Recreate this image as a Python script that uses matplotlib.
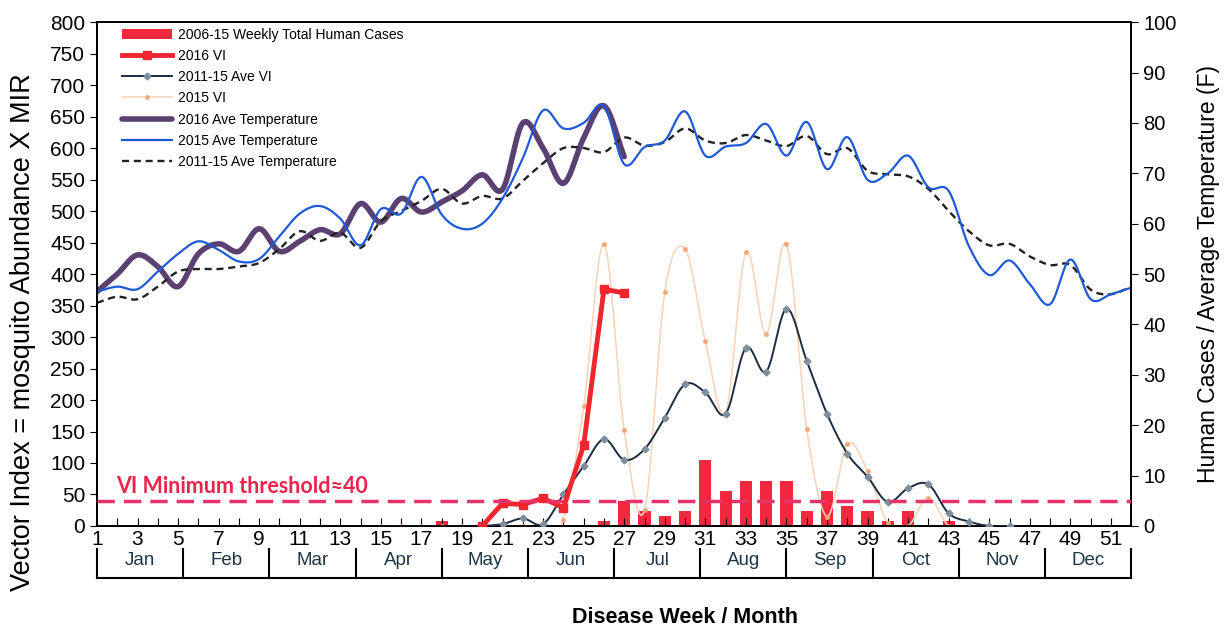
import numpy as np
import matplotlib
matplotlib.use("Agg")
import matplotlib.pyplot as plt

plt.rcParams['font.family'] = ['Liberation Sans', 'DejaVu Sans']

# ---- data ----
weeks = list(range(1, 53))

temp_2016_weeks = list(range(1, 28))
temp_2016 = [46.5, 50, 53.8, 51.5, 47.5, 54, 56, 54.5, 59, 54.5, 56.5, 58.8, 58, 64,
             60.3, 65, 62.3, 64.3, 66.5, 69.7, 66.8, 80, 75, 68, 77, 83.4, 73.3]

temp_2015 = [46.5, 47.5, 47, 50.5, 54, 56.5, 54.8, 52.5, 53, 57.5, 62, 63.5, 61, 55.7,
             62.9, 62, 69.3, 61.8, 59, 60, 65, 73, 82.5, 78.9, 80, 83.4, 71.8, 75.2,
             76.5, 82.3, 73.5, 75.3, 76, 79.8, 73.5, 80.2, 70.8, 77.2, 68.7, 70, 73.5,
             67.2, 66.5, 55.5, 49.8, 52.7, 48, 44, 52.9, 45, 46, 47.3]

temp_avg = [44.3, 45.5, 45, 47.5, 50.5, 51, 51, 51.5, 52.2, 55, 58.5, 56.6, 58.2, 55.2,
            60.5, 62.5, 64.5, 66.9, 64, 65.5, 65, 68.5, 72, 75, 75, 74.2, 77.1, 75.5,
            76.2, 78.9, 76.5, 76, 77.6, 76.5, 75.4, 77.4, 73.8, 75, 70.5, 69.8, 69.4,
            66.9, 62.5, 58.5, 55.7, 56, 53.5, 51.8, 51.8, 46.9, 46, 47.5]

vi_2016_weeks = list(range(20, 28))
vi_2016 = [0, 36, 34, 44, 29, 128, 376, 370]

vi_avg_weeks = list(range(20, 47))
vi_avg = [0, 3, 12, 3, 50, 95, 138, 105, 122, 172, 225, 212, 178, 283, 245, 345, 262,
          178, 115, 78, 38, 60, 66, 20, 7, 0, 0]

vi_2015_weeks = list(range(15, 45))
vi_2015 = [0, 0, 0, 0, 0, 0, 0, 0, 0, 10, 190, 448, 152, 25, 372, 440, 293, 180, 435,
           305, 448, 154, 15, 130, 87, 5, 0, 45, 0, 0]

case_weeks = [18, 26, 27, 28, 29, 30, 31, 32, 33, 34, 35, 36, 37, 38, 39, 40, 41, 43]
cases = [1, 1, 5, 3, 2, 3, 13, 7, 9, 9, 9, 3, 7, 4, 3, 1, 3, 1]

vi_threshold = 40
months = ['Jan', 'Feb', 'Mar', 'Apr', 'May', 'Jun', 'Jul', 'Aug', 'Sep', 'Oct', 'Nov', 'Dec']

STEPS = 12  # sub-steps per segment for the smoothed (Excel style) lines


def smooth(x, y, n=STEPS):
    # Catmull-Rom curve through the points, like Excel "smoothed line"
    x = np.asarray(x, float)
    y = np.asarray(y, float)
    px = np.concatenate([[2 * x[0] - x[1]], x, [2 * x[-1] - x[-2]]])
    py = np.concatenate([[2 * y[0] - y[1]], y, [2 * y[-1] - y[-2]]])
    t = np.linspace(0, 1, n, endpoint=False)
    xs, ys = [], []
    for i in range(1, len(px) - 2):
        for arr, out in ((px, xs), (py, ys)):
            p0, p1, p2, p3 = arr[i - 1:i + 3]
            out.append(0.5 * (2 * p1 + (p2 - p0) * t
                              + (2 * p0 - 5 * p1 + 4 * p2 - p3) * t ** 2
                              + (3 * p1 - p0 - 3 * p2 + p3) * t ** 3))
    xs.append([x[-1]])
    ys.append([y[-1]])
    return np.concatenate(xs), np.concatenate(ys)


def main():
    fig = plt.figure(figsize=(12.24, 6.29), dpi=100)
    ax = fig.add_axes([0.0792, 0.1638, 0.845, 0.801])
    ax2 = ax.twinx()
    # VI axis drawn over the cases/temperature axis
    ax.set_zorder(ax2.get_zorder() + 1)
    ax.patch.set_visible(False)

    # right axis: human cases and temperatures
    bars = ax2.bar(case_weeks, cases, width=0.6, color='#f2283f', zorder=2,
                   label='2006-15 Weekly Total Human Cases')
    tx, ty = smooth(temp_2016_weeks, temp_2016)
    l_t16, = ax2.plot(tx, ty, color='#5b4172', lw=4, solid_capstyle='round', zorder=3,
                      label='2016 Ave Temperature')
    tx, ty = smooth(weeks, temp_2015)
    l_t15, = ax2.plot(tx, ty, color='#1f5ad6', lw=1.6, zorder=4, label='2015 Ave Temperature')
    tx, ty = smooth(weeks, temp_avg)
    l_tav, = ax2.plot(tx, ty, color='#222222', lw=1.7, dashes=(3, 2), zorder=3,
                      label='2011-15 Ave Temperature')

    # left axis: vector index
    vx, vy = smooth(vi_2015_weeks, vi_2015)
    l_v15, = ax.plot(vx, vy, color='#f8d3b8', lw=1.1, marker='o', ms=2.5,
                     mfc='#f2a878', mec='#f2a878', markevery=STEPS, zorder=2, label='2015 VI')
    vx, vy = smooth(vi_avg_weeks, vi_avg)
    l_vav, = ax.plot(vx, vy, color='#1b2c40', lw=1.4, marker='D', ms=3.5,
                     mfc='#7f8e9c', mec='#7f8e9c', markevery=STEPS, zorder=3,
                     label='2011-15 Ave VI')
    l_v16, = ax.plot(vi_2016_weeks, vi_2016, color='#f0262e', lw=3.5, marker='s', ms=6,
                     zorder=4, label='2016 VI')

    ax.axhline(vi_threshold, color='#e8336a', lw=2.5, dashes=(5, 2.6), zorder=5)
    ax.text(1.95, vi_threshold + 23, 'VI Minimum threshold\u224840', color='#e8254a',
            fontsize=15.5, fontweight='bold', family=['Lato', 'DejaVu Sans'],
            va='center', ha='left', zorder=6)

    ax.set_xlim(1, 52)
    ax.set_ylim(0, 800)
    ax2.set_ylim(0, 100)
    ax.set_yticks(np.arange(0, 801, 50))
    ax2.set_yticks(np.arange(0, 101, 10))
    ax.set_xticks(weeks)
    ax.set_xticklabels([str(w) if w % 2 else '' for w in weeks])
    ax.tick_params(axis='x', direction='in', length=6, labelsize=15, pad=3)
    ax.tick_params(axis='y', direction='out', length=5, labelsize=15)
    ax2.tick_params(axis='y', direction='out', length=5, labelsize=14.5)
    for a in (ax, ax2):
        for s in a.spines.values():
            s.set_linewidth(1.3)

    ax.set_ylabel('Vector Index = mosquito Abundance X MIR', fontsize=19.5)
    ax.yaxis.set_label_coords(-0.059, 0.385)
    ax2.set_ylabel('Human Cases / Average Temperature (F)', fontsize=16.5, labelpad=15)
    fig.text(0.56, 0.019, 'Disease Week / Month', fontsize=15.5, fontweight='bold',
             ha='center', va='center')

    # month table under the week axis
    xt = ax.get_xaxis_transform()
    span = (52 - 1) / len(months)
    y_top, y_bot = -0.045, -0.104
    ax.plot([1, 52], [y_bot, y_bot], transform=xt, color='black', lw=1.5, clip_on=False)
    for k in range(len(months) + 1):
        b = 1 + k * span
        ax.plot([b, b], [y_top, y_bot], transform=xt, color='black', lw=1.5, clip_on=False)
    for k, m in enumerate(months):
        ax.text(1 + (k + 0.5) * span, -0.068, m, transform=xt, ha='center', va='center',
                fontsize=13.5, color='#1d3646')

    handles = [bars, l_v16, l_vav, l_v15, l_t16, l_t15, l_tav]
    ax.legend(handles=handles, labels=[h.get_label() for h in handles],
              loc='upper left', bbox_to_anchor=(0.024, 0.989), frameon=False,
              fontsize=10, handlelength=3.6, labelspacing=0.52, borderaxespad=0,
              borderpad=0, handletextpad=0.45)

    fig.savefig('out.png', dpi=100, facecolor='white')


if __name__ == '__main__':
    main()
